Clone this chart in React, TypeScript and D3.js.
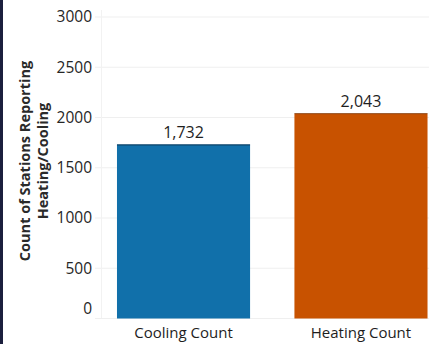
import React from "react";
import * as d3 from "d3";

const categories = ["Cooling Count", "Heating Count"];
const counts = [1732, 2043];
const barColors = ["#1170aa", "#c85200"];
const yTicks = [0, 500, 1000, 1500, 2000, 2500, 3000];
const yTitleLines = ["Count of Stations Reporting", "Heating/Cooling"];

const W = 429;
const H = 344;
const FONT = "'Open Sans', 'DejaVu Sans', sans-serif";

export default function App() {
  const y = d3.scaleLinear().domain([0, 3000]).range([318.5, 17]);
  const x = d3
    .scaleBand<string>()
    .domain(categories)
    .range([94.8, 449.7])
    .paddingInner(0.25)
    .paddingOuter(0.125);
  const fmt = d3.format(",");

  return (
    <svg
      width={W}
      height={H}
      style={{ position: "fixed", left: 0, top: 0, background: "#fff" }}
      fontFamily={FONT}
    >
      <rect x={0} y={0} width={W} height={H} fill="#fff" />
      {/* gridlines */}
      {yTicks.map((t) => (
        <line
          key={"g" + t}
          x1={95}
          x2={W}
          y1={y(t)}
          y2={y(t)}
          stroke="#efefef"
          strokeWidth={1}
        />
      ))}
      <line x1={101.5} x2={101.5} y1={10} y2={318} stroke="#f2f2f2" />
      {/* tick labels; the zero label sits above the baseline */}
      {yTicks.map((t) => (
        <text
          key={"t" + t}
          x={92}
          y={t === 0 ? y(t) - 10 : y(t)}
          dy="0.35em"
          textAnchor="end"
          fontSize={15.5}
          fill="#262626"
        >
          {t}
        </text>
      ))}
      {/* axis title */}
      {yTitleLines.map((line, i) => (
        <text
          key={line}
          transform={`translate(${25 + i * 18},161) rotate(-90)`}
          textAnchor="middle"
          dy="0.35em"
          fontSize={14.5}
          fontWeight="bold"
          fill="#2a2a2a"
        >
          {line}
        </text>
      ))}
      {/* bars */}
      {categories.map((c, i) => (
        <g key={c}>
          <rect
            x={x(c)}
            y={y(counts[i])}
            width={x.bandwidth()}
            height={y(0) - y(counts[i])}
            fill={barColors[i]}
          />
          <line
            x1={x(c)}
            x2={(x(c) as number) + x.bandwidth()}
            y1={y(counts[i]) + 0.5}
            y2={y(counts[i]) + 0.5}
            stroke="#0b2a44"
            strokeOpacity={i === 0 ? 0.8 : 0.3}
          />
          <text
            x={(x(c) as number) + x.bandwidth() / 2}
            y={y(counts[i]) - 6}
            textAnchor="middle"
            fontSize={16}
            fill="#1e1e1e"
          >
            {fmt(counts[i])}
          </text>
          <text
            x={(x(c) as number) + x.bandwidth() / 2}
            y={338}
            textAnchor="middle"
            fontSize={15}
            fill="#1e1e1e"
          >
            {c}
          </text>
        </g>
      ))}
      {/* frame edge */}
      <rect x={0} y={0} width={3} height={H} fill="#1b1f3d" />
    </svg>
  );
}
